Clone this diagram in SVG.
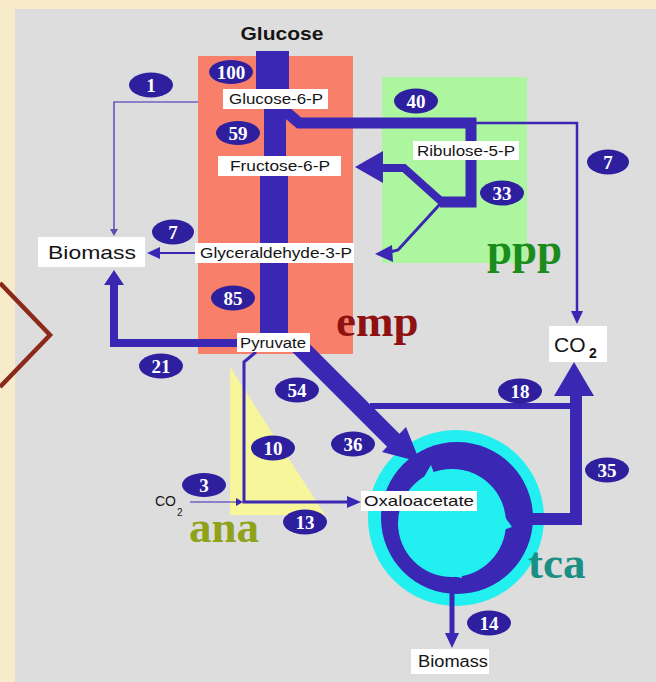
<svg xmlns="http://www.w3.org/2000/svg" width="656" height="682" viewBox="0 0 656 682">
<style>
.lbl{font-family:"Liberation Sans",Arial,sans-serif;fill:#151515;text-anchor:middle}
.box{fill:#ffffff}
.badge ellipse{fill:#2e1f9f}
.badge text{font-family:"Liberation Serif","Times New Roman",serif;font-weight:bold;font-size:19px;fill:#ffffff;text-anchor:middle}
.big{font-family:"Liberation Serif","Times New Roman",serif;font-weight:bold;font-size:45px}
.flow{stroke:#3a27b3;fill:none;stroke-linejoin:miter}
.head{fill:#3a27b3}
</style>
<rect x="0" y="0" width="656" height="682" fill="#f8ebca"/>
<rect x="15" y="9" width="641" height="673" fill="#dddddd"/>
<polyline points="0,283 50,335 0,387" fill="none" stroke="#8b2a1a" stroke-width="4.5"/>

<g id="emp-region"><rect x="198" y="56" width="155" height="298" fill="#f8806a"/></g>
<g id="ppp-region"><rect x="382" y="77" width="145" height="186" fill="#acf6a0"/></g>
<g id="ana-region"><polygon points="230,367 325,515 230,515" fill="#f8f69b"/></g>

<g id="tca-cycle">
<circle cx="456" cy="518" r="88" fill="#22f0f0"/>
<circle cx="457" cy="518" r="76" fill="#3a27b3"/>
<circle cx="452" cy="523" r="54" fill="#22f0f0"/>
<polygon points="424,477 431,465 436,479" fill="#22f0f0"/>
<polygon points="505,517 512,527 503,530" fill="#22f0f0"/>
<polygon points="452,576 461,571 462,578" fill="#22f0f0"/>
</g>

<g id="glucose-bar">
<rect x="256" y="51" width="33" height="52" fill="#3a27b3"/>
<rect x="264" y="100" width="22" height="64" fill="#3a27b3"/>
<rect x="260" y="168" width="28" height="172" fill="#3a27b3"/>
</g>

<g id="connectors">
<polyline class="flow" points="198,102 114,102 114,230" stroke="#8c8c9a" stroke-width="1.2"/>
<polygon points="114,236 110,229 118,229" fill="#5a4fb0"/>
<polyline class="flow" points="284,110 299,123 471,123 471,202 440,202" stroke-width="11"/>
<polyline class="flow" points="476,123 577,123 577,312" stroke-width="2.5"/>
<polygon class="head" points="577,324 571,311 583,311"/>
<polyline class="flow" points="442,202 404,168 380,168" stroke-width="8"/>
<polygon class="head" points="355,167 383,151 383,183"/>
<polyline class="flow" points="441,203 398,250 390,252" stroke-width="3"/>
<polygon class="head" points="375,254 392,245 393,262"/>
<line class="flow" x1="196" y1="253" x2="156" y2="253" stroke-width="2"/>
<polygon class="head" points="147,253 160,247 160,259"/>
<polyline class="flow" points="237,343 114,343 114,282" stroke-width="8"/>
<polygon class="head" points="114,270 104,285 124,285"/>
<polyline class="flow" points="256,352 244,362 244,502 349,502" stroke-width="3"/>
<polygon class="head" points="361,502 347,496 347,508"/>
<line class="flow" x1="190" y1="502" x2="237" y2="502" stroke="#9a9aa6" stroke-width="1.2"/>
<polygon class="head" points="243,502 236,498 236,506"/>
<line class="flow" x1="298" y1="345" x2="395" y2="442" stroke-width="18"/>
<polygon class="head" points="420,462 382,452 406,427"/>
<line class="flow" x1="370" y1="406" x2="576" y2="406" stroke-width="6"/>
<polyline class="flow" points="526,519 576,519 576,394" stroke-width="12"/>
<polygon class="head" points="574,362 554,396 594,396"/>
<line class="flow" x1="452" y1="590" x2="452" y2="636" stroke-width="5"/>
<polygon class="head" points="452,648 445,633 459,633"/>
</g>

<g id="glucose"><text class="lbl" x="282" y="40" font-size="19" font-weight="bold" textLength="83" lengthAdjust="spacingAndGlyphs">Glucose</text></g>
<g id="glucose-6-p"><rect class="box" x="223" y="89" width="105" height="20"/><text class="lbl" x="276" y="104" font-size="15" textLength="94" lengthAdjust="spacingAndGlyphs">Glucose-6-P</text></g>
<g id="fructose-6-p"><rect class="box" x="218" y="156" width="123" height="20"/><text class="lbl" x="280" y="171" font-size="15" textLength="100" lengthAdjust="spacingAndGlyphs">Fructose-6-P</text></g>
<g id="ribulose-5-p"><rect class="box" x="413" y="141" width="106" height="19"/><text class="lbl" x="466" y="156" font-size="15" textLength="98" lengthAdjust="spacingAndGlyphs">Ribulose-5-P</text></g>
<g id="glyceraldehyde-3-p"><rect class="box" x="195" y="243" width="159" height="20"/><text class="lbl" x="276" y="258" font-size="14" textLength="152" lengthAdjust="spacingAndGlyphs">Glyceraldehyde-3-P</text></g>
<g id="biomass-left"><rect class="box" x="38" y="237" width="107" height="30"/><text class="lbl" x="92" y="259" font-size="19" textLength="88" lengthAdjust="spacingAndGlyphs">Biomass</text></g>
<g id="pyruvate"><rect class="box" x="237" y="333" width="73" height="19"/><text class="lbl" x="273" y="348" font-size="14" textLength="66" lengthAdjust="spacingAndGlyphs">Pyruvate</text></g>
<g id="co2-right"><rect class="box" x="549" y="326" width="58" height="36"/><text class="lbl" x="554" y="352" font-size="21" style="text-anchor:start">CO</text><text class="lbl" x="589" y="358" font-size="14" font-weight="bold" style="text-anchor:start">2</text></g>
<g id="co2-left"><text class="lbl" x="155" y="506" font-size="14" style="text-anchor:start">CO</text><text class="lbl" x="177" y="516" font-size="10" style="text-anchor:start">2</text></g>
<g id="oxaloacetate"><rect class="box" x="361" y="491" width="116" height="20"/><text class="lbl" x="419" y="506" font-size="15" textLength="110" lengthAdjust="spacingAndGlyphs">Oxaloacetate</text></g>
<g id="biomass-bottom"><rect class="box" x="411" y="649" width="78" height="25"/><text class="lbl" x="453" y="667" font-size="16" textLength="70" lengthAdjust="spacingAndGlyphs">Biomass</text></g>

<g id="pathway-names">
<text class="big" x="336" y="336" fill="#8e1212">emp</text>
<text class="big" x="487" y="264" fill="#1b8c1b">ppp</text>
<text class="big" x="189" y="542" fill="#8fa31a">ana</text>
<text class="big" x="528" y="578" fill="#1a8f86">tca</text>
</g>

<g id="badges">
<g class="badge"><ellipse cx="231" cy="72" rx="22" ry="12"/><text x="231" y="79">100</text></g>
<g class="badge"><ellipse cx="151" cy="85" rx="22" ry="12.5"/><text x="151" y="92">1</text></g>
<g class="badge"><ellipse cx="416" cy="101" rx="22" ry="12.5"/><text x="416" y="108">40</text></g>
<g class="badge"><ellipse cx="238" cy="133" rx="22" ry="12"/><text x="238" y="140">59</text></g>
<g class="badge"><ellipse cx="608" cy="162" rx="21" ry="12.5"/><text x="608" y="169">7</text></g>
<g class="badge"><ellipse cx="502" cy="193" rx="22" ry="12.5"/><text x="502" y="200">33</text></g>
<g class="badge"><ellipse cx="173" cy="232" rx="21" ry="12.5"/><text x="173" y="239">7</text></g>
<g class="badge"><ellipse cx="233" cy="298" rx="22" ry="12.5"/><text x="233" y="305">85</text></g>
<g class="badge"><ellipse cx="161" cy="366" rx="22" ry="12.5"/><text x="161" y="373">21</text></g>
<g class="badge"><ellipse cx="297" cy="390" rx="22" ry="12.5"/><text x="297" y="397">54</text></g>
<g class="badge"><ellipse cx="520" cy="391" rx="22" ry="12.5"/><text x="520" y="398">18</text></g>
<g class="badge"><ellipse cx="353" cy="444" rx="22" ry="12.5"/><text x="353" y="451">36</text></g>
<g class="badge"><ellipse cx="273" cy="448" rx="22" ry="12.5"/><text x="273" y="455">10</text></g>
<g class="badge"><ellipse cx="204" cy="485" rx="22" ry="12"/><text x="204" y="492">3</text></g>
<g class="badge"><ellipse cx="607" cy="470" rx="22" ry="12.5"/><text x="607" y="477">35</text></g>
<g class="badge"><ellipse cx="305" cy="522" rx="22" ry="12.5"/><text x="305" y="529">13</text></g>
<g class="badge"><ellipse cx="489" cy="623" rx="22" ry="12.5"/><text x="489" y="630">14</text></g>
</g>
</svg>
